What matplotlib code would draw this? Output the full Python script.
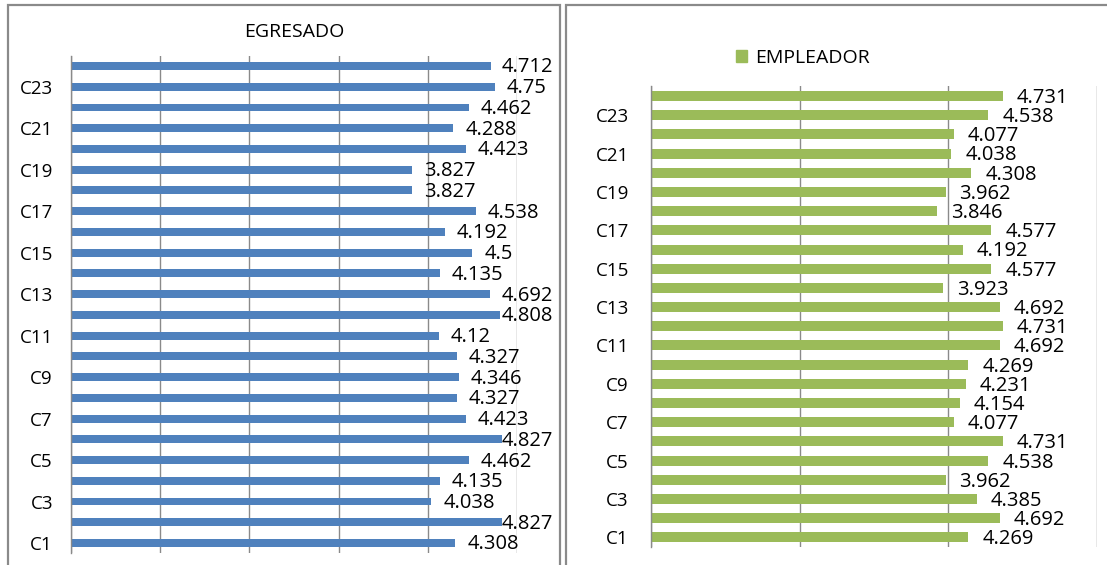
import matplotlib.pyplot as plt
from matplotlib.patches import Rectangle, Patch

plt.rcParams['font.family'] = ['Open Sans', 'DejaVu Sans']

# categorías C1..C24 (de abajo hacia arriba)
categorias = ['C1', 'C2', 'C3', 'C4', 'C5', 'C6', 'C7', 'C8', 'C9', 'C10', 'C11', 'C12',
              'C13', 'C14', 'C15', 'C16', 'C17', 'C18', 'C19', 'C20', 'C21', 'C22', 'C23', 'C24']

egresado = [4.308, 4.827, 4.038, 4.135, 4.462, 4.827, 4.423, 4.327, 4.346, 4.327, 4.12, 4.808,
            4.692, 4.135, 4.5, 4.192, 4.538, 3.827, 3.827, 4.423, 4.288, 4.462, 4.75, 4.712]

empleador = [4.269, 4.692, 4.385, 3.962, 4.538, 4.731, 4.077, 4.154, 4.231, 4.269, 4.692, 4.731,
             4.692, 3.923, 4.577, 4.192, 4.577, 3.846, 3.962, 4.308, 4.038, 4.077, 4.538, 4.731]

azul = '#4F81BD'
verde = '#9BBB59'
gris = '#8a8a8a'

W, H = 1107, 565
fig = plt.figure(figsize=(W / 100, H / 100), dpi=100)


def fx(px):
    return px / W


def fy(py):
    return 1 - py / H


# marcos de cada gráfico
fig.patches.append(Rectangle((fx(8), fy(575)), fx(552), fy(5) - fy(575), transform=fig.transFigure,
                             fill=False, edgecolor=gris, lw=1.6))
fig.patches.append(Rectangle((fx(566), fy(575)), fx(560), fy(5) - fy(575), transform=fig.transFigure,
                             fill=False, edgecolor=gris, lw=1.6))

ax1 = fig.add_axes([fx(71), fy(553.4), fx(446), (553.4 - 55.6) / H])
ax2 = fig.add_axes([fx(651), fy(547), fx(446), (547 - 86.4) / H])

pos = list(range(len(categorias)))


def estilo(ax, xmax, paso):
    ax.set_xlim(0, xmax)
    ax.set_ylim(-0.5, len(categorias) - 0.5)
    ax.set_xticks(range(0, xmax + 1, paso))
    ax.set_xticklabels([])
    ax.xaxis.grid(True, color=gris, lw=1)
    ax.set_axisbelow(True)
    ax.set_yticks(pos[::2])
    ax.set_yticklabels(categorias[::2], fontsize=13.5)
    ax.tick_params(length=0, pad=13)
    for s in ['top', 'right', 'bottom']:
        ax.spines[s].set_visible(False)
    ax.spines['left'].set_color(gris)
    ax.spines['left'].set_linewidth(1)


# EGRESADO
ax1.barh(pos, egresado, height=0.38, color=azul)
estilo(ax1, 5, 1)
textos1 = []
for i, v in enumerate(egresado):
    t = ax1.text(v + 12 / 89.2, i - 0.07, f'{v:g}', va='center', ha='left', fontsize=14.5, clip_on=False)
    textos1.append((t, v, i))
fig.text(fx(294), fy(32), 'EGRESADO', ha='center', va='center', fontsize=14)

# EMPLEADOR
ax2.barh(pos, empleador, height=0.52, color=verde)
estilo(ax2, 6, 2)
ax2.tick_params(pad=16)
for i, v in enumerate(empleador):
    ax2.text(v + 14 / 74.3, i - 0.1, f'{v:g}', va='center', ha='left', fontsize=14.5, clip_on=False)
fig.legend(handles=[Patch(color=verde, label='EMPLEADOR')], loc='center',
           bbox_to_anchor=(fx(803), fy(58)), bbox_transform=fig.transFigure,
           frameon=False, fontsize=14, handlelength=0.55, handleheight=0.55, handletextpad=0.4)

# las etiquetas que se salen del marco se corren a la izquierda (como Excel)
fig.canvas.draw()
r = fig.canvas.get_renderer()
for t, v, i in textos1:
    ext = t.get_window_extent(r)
    if ext.x1 > 553:
        t.set_x(v + 12 / 89.2 - (ext.x1 - 553) / 89.2)

fig.savefig('out.png', dpi=100)
